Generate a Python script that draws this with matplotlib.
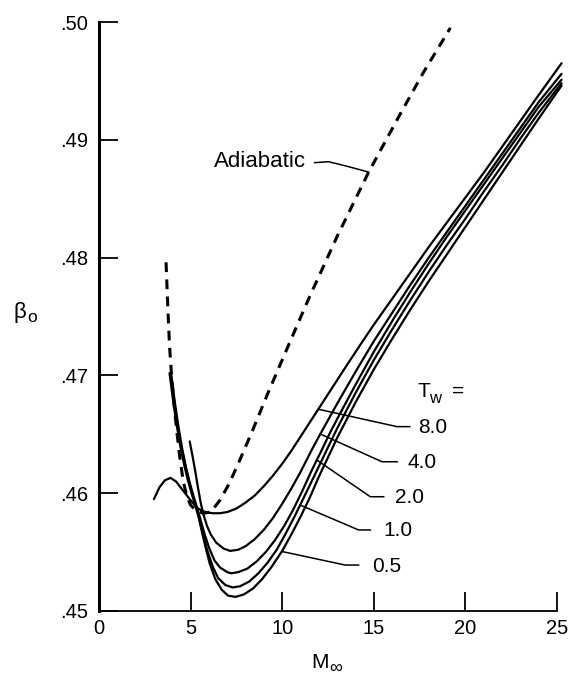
import numpy as np
import matplotlib
matplotlib.use("Agg")
import matplotlib.pyplot as plt

plt.rcParams['font.family'] = ['Liberation Sans', 'DejaVu Sans']

# ---------------- data ----------------
tw_labels = ["8.0", "4.0", "2.0", "1.0", "0.5"]

m_tw80 = [3.0, 3.3, 3.6, 3.9, 4.2, 4.6, 5.0, 5.4, 5.8, 6.2, 6.6, 7.0, 7.5, 8.0, 8.5, 9.0, 9.5,
          10.0, 10.5, 11.0, 11.5, 12.0, 12.5, 13.0, 13.5, 14.35, 15.0, 16.0, 17.0, 18.0, 19.0,
          20.0, 21.0, 22.0, 23.0, 24.0, 25.25]
beta_tw80 = [.4595, .4605, .4611, .4613, .4610, .4602, .4594, .4587, .4584, .4583, .4583, .4584,
             .4587, .4592, .4598, .4606, .4615, .4625, .4636, .4648, .4660, .4672, .4684, .4696,
             .4708, .4728, .4743, .4765, .4787, .4809, .4830, .4851, .4872, .4894, .4916, .4938,
             .4965]

m_tw40 = [4.95, 5.1, 5.25, 5.4, 5.55, 5.7, 5.9, 6.1, 6.4, 6.8, 7.16, 7.6, 8.0, 8.5, 9.0, 9.5,
          10.0, 10.5, 11.0, 11.62, 12.0, 13.0, 14.0, 15.0, 16.0, 17.0, 18.0, 19.0, 20.0, 21.0,
          22.0, 23.0, 24.0, 25.25]
beta_tw40 = [.4644, .4632, .4619, .4605, .4592, .4582, .4572, .4565, .4558, .4553, .4551, .4552,
             .4555, .4561, .4569, .4579, .4591, .4604, .4618, .4637, .4648, .4676, .4703, .4729,
             .4753, .4777, .4800, .4822, .4844, .4866, .4888, .4910, .4932, .4956]

m_tw20 = [3.95, 4.15, 4.35, 4.55, 4.75, 4.95, 5.15, 5.35, 5.55, 5.75, 6.0, 6.3, 6.6, 7.0, 7.2,
          7.6, 8.1, 8.6, 9.1, 9.6, 10.1, 10.6, 11.1, 11.6, 12.17, 12.6, 13.0, 14.0, 15.0, 16.0,
          17.0, 18.0, 19.0, 20.0, 21.0, 22.0, 23.0, 24.0, 25.25]
beta_tw20 = [.4700, .4676, .4655, .4637, .4622, .4609, .4598, .4588, .4577, .4566, .4554, .4543,
             .4537, .4533, .4532, .4533, .4536, .4542, .4550, .4560, .4572, .4586, .4602, .4619,
             .4637, .4651, .4663, .4692, .4720, .4746, .4771, .4795, .4818, .4840, .4862, .4884,
             .4906, .4928, .4951]

m_tw10 = [3.9, 4.1, 4.3, 4.5, 4.7, 4.9, 5.1, 5.3, 5.5, 5.7, 5.9, 6.2, 6.5, 6.9, 7.3, 7.7, 8.2,
          8.7, 9.2, 9.7, 10.2, 10.7, 11.2, 11.7, 12.44, 13.0, 14.0, 15.0, 16.0, 17.0, 18.0, 19.0,
          20.0, 21.0, 22.0, 23.0, 24.0, 25.25]
beta_tw10 = [.4702, .4678, .4657, .4639, .4624, .4611, .4599, .4589, .4577, .4564, .4552, .4538,
             .4528, .4522, .4520, .4521, .4525, .4532, .4541, .4552, .4566, .4581, .4597, .4613,
             .4637, .4655, .4685, .4713, .4739, .4764, .4788, .4811, .4833, .4856, .4878, .4901,
             .4923, .4948]

m_tw05 = [3.85, 4.05, 4.25, 4.45, 4.65, 4.85, 5.05, 5.25, 5.45, 5.65, 5.85, 6.05, 6.35, 6.7,
          7.05, 7.45, 7.9, 8.4, 8.9, 9.4, 10.0, 10.5, 11.0, 11.5, 12.0, 12.7, 13.0, 14.0, 15.0,
          16.0, 17.0, 18.0, 19.0, 20.0, 21.0, 22.0, 23.0, 24.0, 25.25]
beta_tw05 = [.4702, .4678, .4657, .4639, .4624, .4611, .4600, .4590, .4579, .4565, .4552, .4540,
             .4527, .4518, .4513, .4512, .4514, .4519, .4527, .4537, .4551, .4565, .4580, .4596,
             .4614, .4637, .4647, .4677, .4705, .4731, .4756, .4780, .4803, .4826, .4849, .4872,
             .4895, .4918, .4946]

m_adiabatic = [3.66, 3.75, 3.85, 3.97, 4.1, 4.25, 4.43, 4.6, 4.8, 5.0, 5.3, 5.7, 6.1, 6.6, 7.1,
               7.6, 8.4, 9.25, 10.3, 11.5, 13.0, 14.7, 16.27, 17.7, 19.18]
beta_adiabatic = [.4796, .4760, .4725, .4698, .4675, .4652, .4628, .4610, .4597, .4590, .4585,
                  .4583, .4584, .4594, .4608, .4625, .4654, .4686, .4724, .4767, .4818, .4872,
                  .4917, .4957, .4995]

x_ticks = [0, 5, 10, 15, 20, 25]
y_ticks = [.45, .46, .47, .48, .49, .50]
y_tick_labels = [".45", ".46", ".47", ".48", ".49", ".50"]

# ---------------- figure ----------------
W, H = 569, 677
fig = plt.figure(figsize=(W / 100, H / 100), dpi=100)
ax = fig.add_axes([99 / W, 1 - 611 / H, (557 - 99) / W, (611 - 22) / H])
ax.set_xlim(0, 25)
ax.set_ylim(.45, .50)

curves = [(m_tw80, beta_tw80), (m_tw40, beta_tw40), (m_tw20, beta_tw20),
          (m_tw10, beta_tw10), (m_tw05, beta_tw05)]
for m, b in curves:
    ax.plot(m, b, color='black', lw=1.6, clip_on=False, solid_capstyle='round',
            solid_joinstyle='round')

ax.plot(m_adiabatic, beta_adiabatic, color='black', lw=2.2, dashes=(3.2, 2.4),
        clip_on=False)

# spines and ticks
ax.spines['top'].set_visible(False)
ax.spines['right'].set_visible(False)
ax.spines['left'].set_linewidth(2.2)
ax.spines['bottom'].set_linewidth(1.3)
ax.set_xticks(x_ticks)
ax.set_xticklabels([str(t) for t in x_ticks])
ax.set_yticks(y_ticks)
ax.set_yticklabels(y_tick_labels)
ax.tick_params(axis='both', direction='in', length=13.5, width=1.3, labelsize=14.5,
               colors='black')
ax.tick_params(axis='y', pad=8)
ax.tick_params(axis='x', pad=6)

# axis labels
fig.text(20 / W, 1 - 313 / H, "β", fontsize=16, ha='center', va='center')
fig.text(32 / W, 1 - 318 / H, "o", fontsize=12.5, ha='center', va='center')
fig.text(320 / W, 1 - 663 / H, "M", fontsize=15, ha='center', va='center')
fig.text(336 / W, 1 - 668 / H, "∞", fontsize=13, ha='center', va='center')

# Adiabatic label and leader
adi_leader_m = [11.77, 12.53, 13.55, 14.72]
adi_leader_b = [.48806, .48814, .48775, float(np.interp(14.72, m_adiabatic, beta_adiabatic))]
ax.plot(adi_leader_m, adi_leader_b, color='black', lw=1.1, clip_on=False)
ax.text(6.30, .48814, "Adiabatic", fontsize=16, ha='left', va='center')

# Tw = header
ax.text(17.38, .46862, "T", fontsize=15, ha='left', va='center')
ax.text(18.02, .46805, "w", fontsize=12, ha='left', va='center')
ax.text(19.25, .46862, "=", fontsize=15, ha='left', va='center')

# leaders for wall temperature labels
anchor_m = [11.97, 12.08, 11.89, 10.98, 9.98]
elbow_m = [16.27, 15.45, 14.81, 14.17, 13.44]
stub_m = [16.96, 16.27, 15.54, 14.81, 14.17]
text_m = [17.43, 16.83, 16.17, 15.52, 14.90]
label_b = [.46565, .46267, .45970, .45688, .45390]
for (m, b), am, em, sm, tm, lb, lab in zip(curves, anchor_m, elbow_m, stub_m, text_m,
                                              label_b, tw_labels):
    ab = float(np.interp(am, m, b))
    ax.plot([am, em, sm], [ab, lb, lb], color='black', lw=1.1, clip_on=False)
    ax.text(tm, lb - 0.00008, lab, fontsize=15, ha='left', va='center')

fig.savefig("out.png", dpi=100)
